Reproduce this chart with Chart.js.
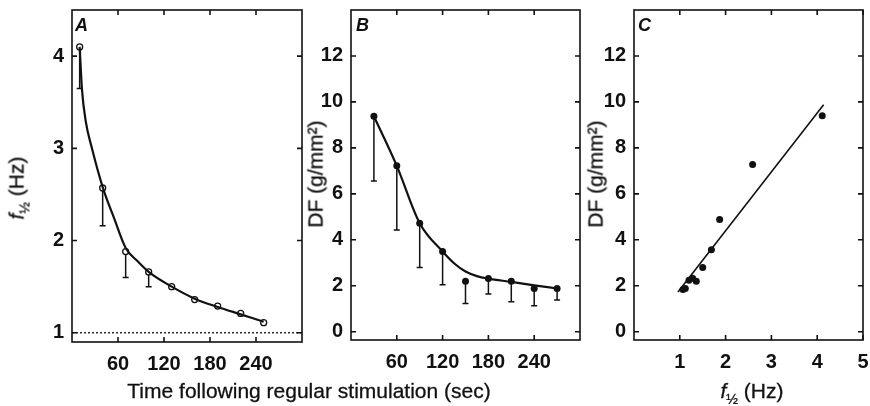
<!DOCTYPE html>
<html>
<head>
<meta charset="utf-8">
<script src="https://cdn.jsdelivr.net/npm/chart.js@4.4.0/dist/chart.umd.min.js"></script>
<style>
  body { margin: 0; background: #fff; }
  #wrap { position: relative; width: 870px; height: 406px; overflow: hidden; font-family: 'Liberation Sans', Arial, sans-serif; color: #111; }
  canvas { position: absolute; left: 0; top: 0; }
  .lbl { position: absolute; white-space: nowrap; font-size: 21px; line-height: 1; transform: translate(-50%, -50%); -webkit-text-stroke: 0.3px #111; }
  .rot { transform: translate(-50%, -50%) rotate(-90deg); }
  .panel { position: absolute; font-size: 18px; line-height: 1; font-weight: bold; font-style: italic; }
  .f { font-style: italic; }
  .half { position: relative; top: 6px; font-size: 14px; font-style: normal; }
</style>
</head>
<body>
<div id="wrap">
  <canvas id="chartA" width="870" height="406"></canvas>
  <canvas id="chartB" width="870" height="406"></canvas>
  <canvas id="chartC" width="870" height="406"></canvas>
  <div class="panel" style="left:75px;top:16px">A</div>
  <div class="panel" style="left:356px;top:16px">B</div>
  <div class="panel" style="left:638px;top:16px">C</div>
  <div class="lbl rot" style="left:16px;top:188px"><span class="f">f</span><span class="half">½</span> (Hz)</div>
  <div class="lbl rot" style="left:315px;top:174px">DF (g/mm²)</div>
  <div class="lbl rot" style="left:595px;top:174px">DF (g/mm²)</div>
  <div class="lbl" style="left:309px;top:390px">Time following regular stimulation (sec)</div>
  <div class="lbl" style="left:752px;top:390px"><span class="f">f</span><span class="half">½</span> (Hz)</div>
</div>
<script>
const timeTicks = [60, 120, 180, 240];
const fHalfTicks = [1, 2, 3, 4];
const dfTicks = [0, 2, 4, 6, 8, 10, 12];
const fHalfCTicks = [1, 2, 3, 4, 5];
const timeRange = [0, 300];

// A: f1/2 after regular stimulation
const timeA = [10, 40, 70, 100, 130, 160, 190, 220, 250];
const fHalfA = [4.10, 2.57, 1.88, 1.66, 1.50, 1.36, 1.29, 1.21, 1.11];
const fHalfLowA = [3.65, 2.16, 1.60, 1.50, null, null, null, null, null];
const curveTimeA = [10, 13, 18, 26, 40, 55, 70, 85, 100, 130, 160, 190, 220, 250];
const curveFHalfA = [4.10, 3.64, 3.29, 3.00, 2.58, 2.24, 1.92, 1.78, 1.66, 1.50, 1.37, 1.28, 1.20, 1.12];
const restingFHalf = 1.0;

// B: DF
const timeB = [30, 60, 90, 120, 150, 180, 210, 240, 270];
const dfB = [9.38, 7.22, 4.72, 3.49, 2.20, 2.32, 2.20, 1.88, 1.88];
const dfLowB = [6.56, 4.43, 2.79, 2.04, 1.23, 1.64, 1.30, 1.13, 1.38];
const curveTimeB = [30, 60, 90, 120, 135, 150, 165, 180, 210, 240, 270];
const curveDfB = [9.38, 7.22, 4.72, 3.49, 2.98, 2.62, 2.42, 2.31, 2.17, 2.02, 1.88];

// C: DF vs f1/2
const fHalfC = [4.11, 2.59, 1.87, 1.69, 1.50, 1.36, 1.28, 1.20, 1.12, 1.07];
const dfC = [9.40, 7.28, 4.88, 3.57, 2.80, 2.20, 2.33, 2.24, 1.88, 1.84];
const fitFHalfC = [0.96, 4.14];
const fitDfC = [1.73, 9.88];

const ink = '#111';
Chart.defaults.font.family = "'Liberation Sans', Arial, sans-serif";
Chart.defaults.color = ink;

const pts = (xs, ys) => xs.map((x, i) => ({ x: x, y: ys[i] }));

const errorBars = {
  id: 'errorBars',
  beforeDatasetsDraw(chart, args, opts) {
    if (!opts.low) return;
    const ctx = chart.ctx;
    const xs = chart.scales.x, ys = chart.scales.y;
    ctx.save();
    ctx.strokeStyle = ink;
    ctx.lineWidth = 1.5;
    ctx.beginPath();
    opts.low.forEach((lo, i) => {
      if (lo == null) return;
      const px = xs.getPixelForValue(opts.x[i]);
      const top = ys.getPixelForValue(opts.y[i]);
      const bot = ys.getPixelForValue(lo);
      ctx.moveTo(px, top);
      ctx.lineTo(px, bot);
      ctx.moveTo(px - 3, bot);
      ctx.lineTo(px + 3, bot);
    });
    ctx.stroke();
    ctx.restore();
  }
};

const frame = {
  id: 'frame',
  afterDatasetsDraw(chart) {
    const ctx = chart.ctx, a = chart.chartArea;
    const xs = chart.scales.x, ys = chart.scales.y;
    ctx.save();
    ctx.strokeStyle = ink;
    ctx.lineWidth = 1.6;
    ctx.strokeRect(a.left, a.top, a.right - a.left, a.bottom - a.top);
    ctx.beginPath();
    xs.ticks.forEach(t => {
      const px = xs.getPixelForValue(t.value);
      ctx.moveTo(px, a.bottom); ctx.lineTo(px, a.bottom - 5);
      ctx.moveTo(px, a.top); ctx.lineTo(px, a.top + 5);
    });
    ys.ticks.forEach(t => {
      const py = ys.getPixelForValue(t.value);
      ctx.moveTo(a.left, py); ctx.lineTo(a.left + 5, py);
      ctx.moveTo(a.right, py); ctx.lineTo(a.right - 5, py);
    });
    ctx.stroke();
    ctx.restore();
  }
};

function axis(min, max, tickValues, isX) {
  return {
    type: 'linear',
    min: min,
    max: max,
    grid: { display: false, drawTicks: false },
    border: { display: false },
    afterBuildTicks: s => { s.ticks = tickValues.map(v => ({ value: v })); },
    afterFit: s => {
      if (isX) s.height = 40; else s.width = 40;
      s.paddingLeft = 0; s.paddingRight = 0; s.paddingTop = 0; s.paddingBottom = 0;
    },
    ticks: {
      autoSkip: false,
      maxRotation: 0,
      padding: isX ? 10 : 8,
      font: { size: 20, weight: 'bold' }
    }
  };
}

function makeChart(id, padding, scales, datasets, errOpts) {
  return new Chart(document.getElementById(id), {
    type: 'scatter',
    data: { datasets: datasets },
    options: {
      responsive: false,
      animation: false,
      devicePixelRatio: 1,
      layout: { padding: padding },
      scales: scales,
      plugins: {
        legend: { display: false },
        tooltip: { enabled: false },
        errorBars: errOpts || {}
      }
    },
    plugins: [errorBars, frame]
  });
}

const curveStyle = {
  showLine: true, pointRadius: 0, borderColor: ink, borderWidth: 2.2,
  cubicInterpolationMode: 'monotone'
};

makeChart('chartA',
  { left: 32, right: 568, top: 10, bottom: 24 },
  { x: axis(timeRange[0], timeRange[1], timeTicks, true), y: axis(0.9, 4.5, fHalfTicks, false) },
  [
    { data: pts(timeRange, [restingFHalf, restingFHalf]), showLine: true, pointRadius: 0,
      borderColor: ink, borderWidth: 1.3, borderDash: [2, 2] },
    Object.assign({ data: pts(curveTimeA, curveFHalfA) }, curveStyle),
    { data: pts(timeA, fHalfA), pointRadius: 3, borderWidth: 1.3,
      pointBackgroundColor: '#fff', pointBorderColor: ink }
  ],
  { x: timeA, y: fHalfA, low: fHalfLowA }
);

makeChart('chartB',
  { left: 311, right: 290, top: 10, bottom: 26 },
  { x: axis(timeRange[0], timeRange[1], timeTicks, true), y: axis(-0.36, 14, dfTicks, false) },
  [
    Object.assign({ data: pts(curveTimeB, curveDfB) }, curveStyle),
    { data: pts(timeB, dfB), pointRadius: 3.5, borderWidth: 0,
      pointBackgroundColor: ink, pointBorderColor: ink }
  ],
  { x: timeB, y: dfB, low: dfLowB }
);

makeChart('chartC',
  { left: 594, right: 7, top: 10, bottom: 26 },
  { x: axis(0, 5, fHalfCTicks, true), y: axis(-0.36, 14, dfTicks, false) },
  [
    { data: pts(fitFHalfC, fitDfC), showLine: true, pointRadius: 0, borderColor: ink, borderWidth: 1.6 },
    { data: pts(fHalfC, dfC), pointRadius: 3.5, borderWidth: 0,
      pointBackgroundColor: ink, pointBorderColor: ink }
  ]
);
</script>
</body>
</html>
